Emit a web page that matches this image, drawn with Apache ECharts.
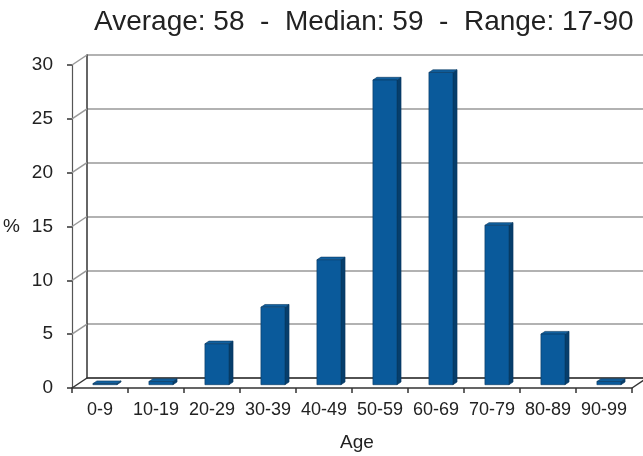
<!DOCTYPE html>
<html>
<head>
<meta charset="utf-8">
<script src="https://cdn.jsdelivr.net/npm/echarts@6/dist/echarts.min.js"></script>
<style>
  html, body { margin: 0; padding: 0; background: #fff; }
  #chart { width: 643px; height: 456px; }
</style>
</head>
<body>
<div id="chart"></div>
<script>
// Age distribution (% of patients per decade)
const ageGroups = ['0-9', '10-19', '20-29', '30-39', '40-49', '50-59', '60-69', '70-79', '80-89', '90-99'];
const sharePct = [0.1, 0.3, 3.8, 7.2, 11.6, 28.3, 29.0, 14.8, 4.7, 0.3];
const yTicks = [0, 5, 10, 15, 20, 25, 30];
const headline = 'Average: 58  -  Median: 59  -  Range: 17-90';

const FONT = '"Liberation Sans", Arial, Helvetica, sans-serif';
const TEXT = '#222';

// Front plane and back wall of the pseudo-3D box
const front = { left: 72, top: 65, width: 560, height: 323 };
const back = { left: 87, top: 55, width: 560, height: 323 };
const DEPTH = [back.left - front.left, back.top - front.top]; // screen offset of full depth

const BAR_FRAC = 0.43;      // bar width relative to a category slot
const BAR_NEAR = 0.33;      // depth fraction of the bar's front face
const BAR_FAR = 0.60;       // depth fraction of the bar's back face

function shift(pt, f) {
  return [pt[0] + DEPTH[0] * f, pt[1] + DEPTH[1] * f];
}

const chart = echarts.init(document.getElementById('chart'), null, { renderer: 'canvas' });

const option = {
  animation: false,
  backgroundColor: '#fff',
  textStyle: { fontFamily: FONT },
  title: {
    text: headline,
    left: 94,
    top: 8,
    padding: 0,
    textStyle: { fontFamily: FONT, fontSize: 28, fontWeight: 'normal', color: TEXT }
  },
  grid: [
    Object.assign({ containLabel: false, outerBoundsMode: 'none' }, front),
    Object.assign({ containLabel: false, outerBoundsMode: 'none' }, back)
  ],
  xAxis: [
    {
      type: 'category', gridIndex: 0, data: ageGroups, boundaryGap: true,
      axisLine: { show: true, lineStyle: { color: '#333', width: 1.5 } },
      axisTick: { show: true, interval: 0, length: 5, lineStyle: { color: '#333', width: 1.5 } },
      axisLabel: { interval: 0, margin: 13, fontSize: 18, color: TEXT, fontFamily: FONT },
      name: 'Age', nameLocation: 'middle', nameGap: 45,
      nameTextStyle: { fontSize: 19, color: TEXT, fontFamily: FONT, padding: [0, 0, 0, 10] },
      splitLine: { show: false }
    },
    {
      type: 'category', gridIndex: 1, data: ageGroups, boundaryGap: true,
      axisLine: { show: true, lineStyle: { color: '#333', width: 1.5 } },
      axisTick: { show: false }, axisLabel: { show: false }, splitLine: { show: false }
    }
  ],
  yAxis: [
    {
      type: 'value', gridIndex: 0, min: 0, max: 30, interval: 5,
      axisLine: { show: true, lineStyle: { color: '#555', width: 1.2 } },
      axisTick: { show: true, length: 5, lineStyle: { color: '#333', width: 1.5 } },
      axisLabel: { margin: 19, fontSize: 19, color: TEXT, fontFamily: FONT },
      splitLine: { show: false },
      name: '%', nameLocation: 'middle', nameRotate: 0, nameGap: 52,
      nameTextStyle: { fontSize: 19, color: TEXT, fontFamily: FONT, padding: [6, 0, 0, 0] }
    },
    {
      type: 'value', gridIndex: 1, min: 0, max: 30, interval: 5,
      axisLine: { show: true, lineStyle: { color: '#333', width: 1.5 } },
      axisTick: { show: false }, axisLabel: { show: false },
      splitLine: { show: true, lineStyle: { color: '#999', width: 1.5 } }
    }
  ],
  series: [
    {
      // left side wall: connects each front tick to its gridline on the back wall
      type: 'custom', xAxisIndex: 0, yAxisIndex: 0, silent: true, z: 1, clip: false,
      data: yTicks.map(v => [0, v]),
      renderItem(params, api) {
        const v = api.value(1);
        const c = api.coord([0, v]);
        const x0 = c[0] - api.size([1, 0])[0] / 2;
        const p0 = [x0, c[1]];
        const p1 = shift(p0, 1);
        return {
          type: 'line',
          shape: { x1: p0[0], y1: p0[1], x2: p1[0], y2: p1[1] },
          style: { stroke: v === 0 ? '#333' : '#999', lineWidth: 1.5 }
        };
      }
    },
    {
      // right edge of the floor
      type: 'custom', xAxisIndex: 0, yAxisIndex: 0, silent: true, z: 1, clip: false,
      data: [[ageGroups.length - 1, 0]],
      renderItem(params, api) {
        const c = api.coord([api.value(0), 0]);
        const x0 = c[0] + api.size([1, 0])[0] / 2;
        const p0 = [x0, c[1]];
        const p1 = shift(p0, 1);
        return {
          type: 'line',
          shape: { x1: p0[0], y1: p0[1], x2: p1[0], y2: p1[1] },
          style: { stroke: '#333', lineWidth: 1.5 }
        };
      }
    },
    {
      // 3D columns: front face, top face and right side face
      type: 'custom', xAxisIndex: 0, yAxisIndex: 0, z: 3, clip: false,
      data: sharePct.map((v, i) => [i, v]),
      renderItem(params, api) {
        const i = api.value(0), v = api.value(1);
        const b = api.coord([i, 0]);
        const t = api.coord([i, v]);
        const w = api.size([1, 0])[0] * BAR_FRAC;
        const xl = b[0] - w / 2, xr = b[0] + w / 2;
        const fbl = shift([xl, b[1]], BAR_NEAR), fbr = shift([xr, b[1]], BAR_NEAR);
        const ftl = shift([xl, t[1]], BAR_NEAR), ftr = shift([xr, t[1]], BAR_NEAR);
        const btl = shift([xl, t[1]], BAR_FAR), btr = shift([xr, t[1]], BAR_FAR);
        const bbr = shift([xr, b[1]], BAR_FAR);
        const edge = { stroke: '#08385f', lineWidth: 0.6 };
        return {
          type: 'group',
          children: [
            { type: 'polygon', shape: { points: [fbr, ftr, btr, bbr] },
              style: Object.assign({ fill: '#063e6c' }, edge) },
            { type: 'polygon', shape: { points: [ftl, ftr, btr, btl] },
              style: Object.assign({ fill: '#11609f' }, edge) },
            { type: 'polygon', shape: { points: [fbl, fbr, ftr, ftl] },
              style: Object.assign({ fill: '#0a5a9b' }, edge) }
          ]
        };
      }
    }
  ]
};

chart.setOption(option);
</script>
</body>
</html>
